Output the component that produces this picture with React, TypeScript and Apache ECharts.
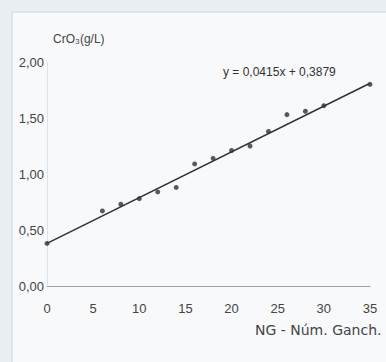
import React, { useEffect, useRef } from "react";
import * as echarts from "echarts";

const xValues = [0, 6, 8, 10, 12, 14, 16, 18, 20, 22, 24, 26, 28, 30, 35];
const yValues = [0.38, 0.67, 0.73, 0.78, 0.84, 0.88, 1.09, 1.14, 1.21, 1.25, 1.38, 1.53, 1.56, 1.61, 1.8];
const trendLine = [
  [0, 0.38],
  [35, 1.81],
];
const equationLabel = "y = 0,0415x + 0,3879";
const yAxisName = "CrO₃(g/L)";
const xAxisName = "NG - Núm. Ganch.";

export default function App() {
  const ref = useRef<HTMLDivElement>(null);
  useEffect(() => {
    if (!ref.current) return;
    const chart = echarts.init(ref.current, null, { renderer: "svg" });
    const font = "Liberation Sans, Arial, sans-serif";
    const fmt = (v: number) => v.toFixed(2).replace(".", ",");
    chart.setOption({
      animation: false,
      backgroundColor: "#e9eef2",
      textStyle: { fontFamily: font },
      graphic: [
        {
          type: "rect",
          z: -10,
          shape: { x: 12, y: 12, width: 420, height: 400 },
          style: { fill: "#f8f9fb", stroke: "#cdd6dd", lineWidth: 1 },
          silent: true,
        },
        {
          type: "text",
          left: 53,
          top: 33,
          style: { text: yAxisName, fontSize: 12, fill: "#444", fontFamily: font },
        },
        {
          type: "text",
          left: 255,
          top: 323,
          style: { text: xAxisName, fontSize: 14, fill: "#444", fontFamily: "DejaVu Sans, sans-serif" },
        },
        {
          type: "text",
          left: 223,
          top: 66,
          style: { text: equationLabel, fontSize: 12, fill: "#333", fontFamily: font },
        },
      ],
      grid: { left: 47, right: 16, top: 62, bottom: 76, containLabel: false },
      xAxis: {
        type: "value",
        min: 0,
        max: 35,
        interval: 5,
        axisLine: { show: true, lineStyle: { color: "#9aa3aa", width: 1 } },
        axisTick: { show: false },
        splitLine: { show: false },
        axisLabel: { color: "#444", fontSize: 13, margin: 16, fontFamily: font },
      },
      yAxis: {
        type: "value",
        min: 0,
        max: 2,
        interval: 0.5,
        axisLine: { show: true, lineStyle: { color: "#dde3e8", width: 1 } },
        axisTick: { show: false },
        splitLine: { show: false },
        axisLabel: { color: "#444", fontSize: 13, margin: 3, formatter: fmt, fontFamily: font },
      },
      series: [
        {
          type: "line",
          data: trendLine,
          symbol: "none",
          lineStyle: { color: "#2f3336", width: 1.5 },
          z: 2,
        },
        {
          type: "scatter",
          data: xValues.map((x, i) => [x, yValues[i]]),
          symbol: "circle",
          symbolSize: 5,
          itemStyle: { color: "#2f3336" },
          z: 3,
        },
      ],
    });
    return () => chart.dispose();
  }, []);
  return (
    <div
      ref={ref}
      style={{ position: "fixed", left: 0, top: 0, width: 386, height: 362 }}
    />
  );
}
